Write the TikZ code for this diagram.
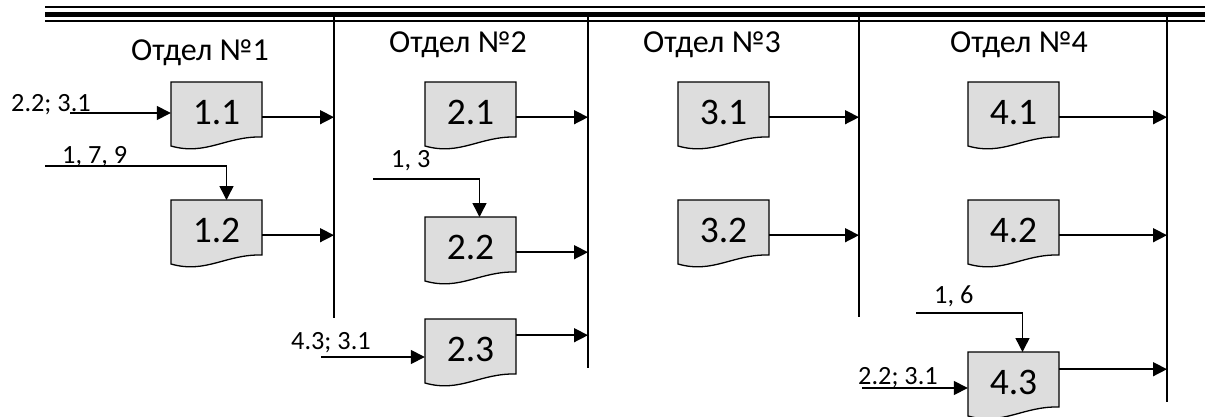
\documentclass[tikz,border=0pt]{standalone}
\usepackage{fontspec}
\setmainfont{Carlito}
\usetikzlibrary{arrows.meta}
\definecolor{docgray}{RGB}{221,221,221}

\begin{document}
\begin{tikzpicture}[x=1pt,y=-1pt,
		docline/.style={draw=black,line width=1.3pt,fill=docgray},
		doc/.style={anchor=north,minimum width=91pt,minimum height=70pt,inner sep=0pt,text height=26pt,text depth=12pt,font=\fontsize{37.5}{37.5}\selectfont},
		hdr/.style={font=\fontsize{32}{32}\selectfont,inner sep=0pt},
		lbl/.style={anchor=base west,font=\fontsize{26.3}{26.3}\selectfont,inner sep=0pt},
		arr/.style={line width=1.5pt,-{Triangle[length=14pt,width=14pt]}},
		wall/.style={line width=2pt}]
		\useasboundingbox (0,0) rectangle (1205,416);
		\def\docnode#1#2#3#4{%
			\filldraw[docline] (#2-45.5,#3) -- ++(91,0) -- ++(0,55) .. controls +(-36,-1) and +(35,10) .. (#2-45.5,#3+64) -- cycle;
			\node[doc] (#1) at (#2,#3) {#4};}
		% top border
		\draw[line width=1.5pt] (45,7) -- (1205,7);
		\draw[line width=4.5pt] (45,14.7) -- (1205,14.7);
		\draw[line width=1.5pt] (45,21) -- (1205,21);
		% department walls
		\coordinate (v1) at (334,15);\coordinate (v2) at (588,15);\coordinate (v3) at (859,15);\coordinate (v4) at (1167,15);
		\draw[wall] (v1) -- (334,318);
		\draw[wall] (v2) -- (588,368);
		\draw[wall] (v3) -- (859,317);
		\draw[wall] (v4) -- (1167,402);
		\node[hdr] (h1) at (200,53) {Отдел №1};
		\node[hdr] (h2) at (458,45) {Отдел №2};
		\node[hdr] (h3) at (712,45) {Отдел №3};
		\node[hdr] (h4) at (1019,45) {Отдел №4};
		% documents
		\docnode{n11}{216.5}{82}{1.1}
		\docnode{n12}{216.5}{200}{1.2}
		\docnode{n21}{470.5}{82}{2.1}
		\docnode{n22}{470.5}{217}{2.2}
		\docnode{n23}{470.5}{319}{2.3}
		\docnode{n31}{723.5}{82}{3.1}
		\docnode{n32}{723.5}{200}{3.2}
		\docnode{n41}{1013.5}{82}{4.1}
		\docnode{n42}{1013.5}{200}{4.2}
		\docnode{n43}{1013.5}{352}{4.3}
		% outputs
		\draw[arr] (n11.east) -- (n11.east -| v1);
		\draw[arr] (n12.east) -- (n12.east -| v1);
		\draw[arr] (n21.east) -- (n21.east -| v2);
		\draw[arr] (n22.east) -- (n22.east -| v2);
		\coordinate (o23) at ([yshift=19pt]n23.east);
		\draw[arr] (o23) -- (o23 -| v2);
		\draw[arr] (n31.east) -- (n31.east -| v3);
		\draw[arr] (n32.east) -- (n32.east -| v3);
		\draw[arr] (n41.east) -- (n41.east -| v4);
		\draw[arr] (n42.east) -- (n42.east -| v4);
		\coordinate (o43) at ([yshift=18pt]n43.east);
		\draw[arr] (o43) -- (o43 -| v4);
		% inputs
		\coordinate (s11) at (70,113);
		\draw[arr] (s11) -- (s11 -| n11.west);
		\node[lbl] (t11) at (11,111) {2.2; 3.1};
		\coordinate (s12) at (45,166);
		\draw[arr] (s12) -| ([xshift=10pt]n12.north);
		\node[lbl] (t12) at (62,163) {1, 7, 9};
		\coordinate (s22) at (373,179);
		\draw[arr] (s22) -| ([xshift=9pt]n22.north);
		\node[lbl] (t22) at (391,167) {1, 3};
		\coordinate (s23) at (321,357);
		\draw[arr] (s23) -- (s23 -| n23.west);
		\node[lbl] (t23) at (291,349) {4.3; 3.1};
		\coordinate (s43) at (916,313);
		\draw[arr] (s43) -| ([xshift=9pt]n43.north);
		\node[lbl] (t43) at (934,303) {1, 6};
		\coordinate (r43) at (862,388);
		\draw[arr] (r43) -- (r43 -| n43.west);
		\node[lbl] (u43) at (858,384) {2.2; 3.1};
	\end{tikzpicture}
\end{document}
